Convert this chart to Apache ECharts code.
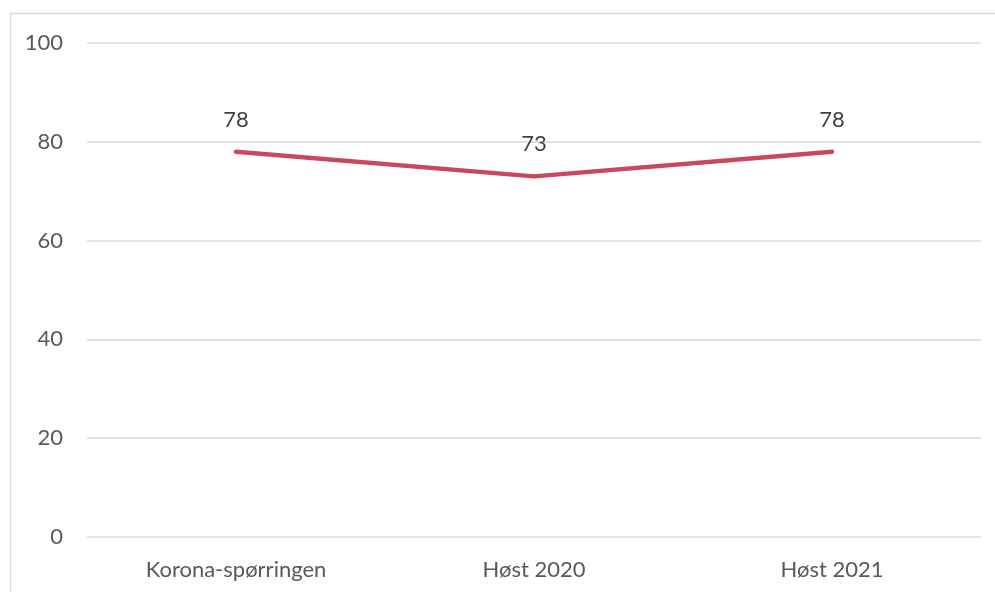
<!DOCTYPE html>
<html>
<head>
<meta charset="utf-8">
<script src="https://cdn.jsdelivr.net/npm/echarts@6/dist/echarts.min.js"></script>
<style>
html,body{margin:0;padding:0;background:#fff;}
#chart{width:995px;height:592px;}
</style>
</head>
<body>
<div id="chart"></div>
<script>
const categories = ['Korona-spørringen', 'Høst 2020', 'Høst 2021'];
const values = [78, 73, 78];
const yTicks = { min: 0, max: 100, interval: 20 };

const chart = echarts.init(document.getElementById('chart'), null, { renderer: 'canvas' });
chart.setOption({
  animation: false,
  backgroundColor: '#ffffff',
  graphic: [{
    type: 'rect',
    shape: { x: 10.5, y: 13.5, width: 1000, height: 700 },
    style: { fill: 'none', stroke: '#d9d9d9', lineWidth: 1.5 },
    silent: true
  }],
  grid: { left: 87, right: 14, top: 43, bottom: 55 },
  xAxis: {
    type: 'category',
    data: categories,
    boundaryGap: true,
    axisLine: { show: false },
    axisTick: { show: false },
    axisLabel: { color: '#595959', fontSize: 22, fontFamily: 'Lato', margin: 22 }
  },
  yAxis: {
    type: 'value',
    min: yTicks.min, max: yTicks.max, interval: yTicks.interval,
    axisLine: { show: false },
    axisTick: { show: false },
    axisLabel: { color: '#595959', fontSize: 22, fontFamily: 'Lato', margin: 24 },
    splitLine: { lineStyle: { color: '#d9d9d9', width: 1.5 } }
  },
  series: [{
    type: 'line',
    data: values,
    symbol: 'circle',
    symbolSize: 2,
    showSymbol: true,
    itemStyle: { color: 'rgba(201,72,91,0)', borderWidth: 0 },
    lineStyle: { color: '#c9485b', width: 4.5, cap: 'round', join: 'round' },
    label: {
      show: true, position: 'top', distance: 20,
      color: '#404040', fontSize: 22, fontFamily: 'Lato'
    }
  }]
});
</script>
</body>
</html>
